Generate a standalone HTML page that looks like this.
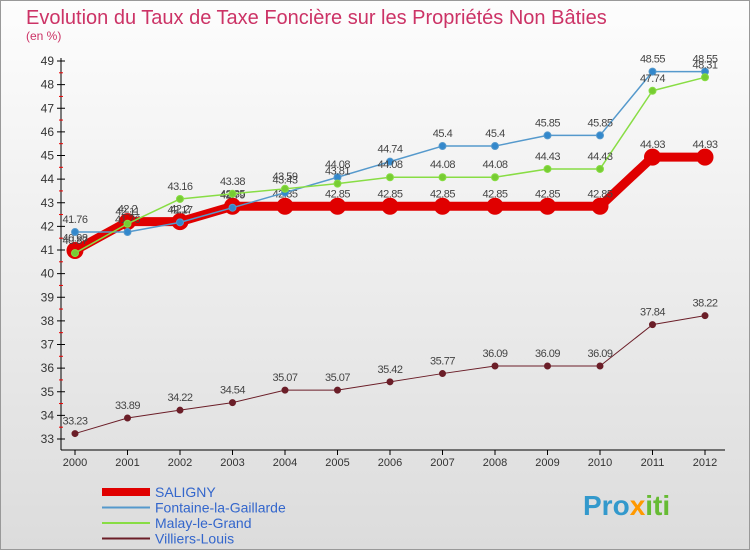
<!DOCTYPE html>
<html><head><meta charset="utf-8"><style>
body{margin:0;width:750px;height:550px;overflow:hidden;font-family:"Liberation Sans",sans-serif}
</style></head><body>
<svg id="c" width="750" height="550" xmlns="http://www.w3.org/2000/svg">
<defs><linearGradient id="bg" x1="0" y1="0" x2="0" y2="1"><stop offset="0" stop-color="#fdfdfd"/><stop offset="1" stop-color="#dcdcdc"/></linearGradient></defs>
<rect x="0.5" y="0.5" width="749" height="549" fill="url(#bg)" stroke="#999"/>
<text x="26" y="24" font-size="20" fill="#cc3366">Evolution du Taux de Taxe Foncière sur les Propriétés Non Bâties</text>
<text x="26" y="40" font-size="12" fill="#cc3366">(en %)</text>
<g id="axes"></g><g id="series"></g><g id="legend"></g>
<text x="583" y="515" font-size="28" font-weight="bold" fill="#3399cc">Pro<tspan fill="#ff9900">x</tspan><tspan fill="#66bb33">iti</tspan></text>
</svg>
<script>
const years=[2000,2001,2002,2003,2004,2005,2006,2007,2008,2009,2010,2011,2012];
const saligny=[40.98,42.2,42.2,42.85,42.85,42.85,42.85,42.85,42.85,42.85,42.85,44.93,44.93];
const fontaine=[41.76,41.76,42.17,42.79,43.43,44.08,44.74,45.4,45.4,45.85,45.85,48.55,48.55];
const malay=[40.87,42.11,43.16,43.38,43.59,43.81,44.08,44.08,44.08,44.43,44.43,47.74,48.31];
const villiers=[33.23,33.89,34.22,34.54,35.07,35.07,35.42,35.77,36.09,36.09,36.09,37.84,38.22];
const yTicks=[33,34,35,36,37,38,39,40,41,42,43,44,45,46,47,48,49];
const NS="http://www.w3.org/2000/svg";
const X=i=>75+i*52.5, Y=v=>61+(49-v)*23.625;
function mk(p,t,a){const e=document.createElementNS(NS,t);for(const k in a)e.setAttribute(k,a[k]);p.appendChild(e);return e;}
const ax=document.getElementById('axes');
let l=mk(ax,'line',{x1:61,y1:58,x2:61,y2:450,stroke:'#000'});


l=mk(ax,'line',{x1:61,y1:450,x2:725,y2:450,stroke:'#000'});


yTicks.forEach(v=>{const y=Y(v);mk(ax,'line',{x1:57,y1:y,x2:65,y2:y,stroke:'#000'});
 mk(ax,'line',{x1:59,y1:y+11.8,x2:63,y2:y+11.8,stroke:v>33?'#e00':'none'});
 const t=mk(ax,'text',{x:54,y:y+4,'font-size':12,'text-anchor':'end',fill:'#333'});t.textContent=v;
 
 });
years.forEach((yr,i)=>{const x=X(i);mk(ax,'line',{x1:x,y1:450,x2:x,y2:455,stroke:'#000'});
 const t=mk(ax,'text',{x:x,y:466,'font-size':11,'text-anchor':'middle',fill:'#333'});t.textContent=yr;
 
 });
const S=document.getElementById('series');
function draw(vals,color,w,r,name,dot){const g=mk(S,'g',{});
 
 
 mk(g,'polyline',{points:vals.map((v,i)=>X(i)+','+Y(v)).join(' '),fill:'none',stroke:color,'stroke-width':w,'stroke-linejoin':'round'});
 vals.forEach((v,i)=>{const c=mk(g,'circle',{cx:X(i),cy:Y(v),r:r,fill:dot,stroke:color,'stroke-width':1});
  
  
  const t=mk(g,'text',{x:X(i),y:Y(v)-9,'font-size':11,'text-anchor':'middle',fill:'#444','letter-spacing':'-0.5'});t.textContent=v;});}
draw(villiers,'#6b1e28',1,3,'villiers-louis-series','#6b1e28');
draw(saligny,'#e00000',9,8,'saligny-series','#e00000');
draw(fontaine,'#5599cc',1.5,3.5,'fontaine-series','#3388cc');
draw(malay,'#88dd44',1.5,3.5,'malay-series','#77cc33');
const L=document.getElementById('legend');
[['SALIGNY','#e00000',8],['Fontaine-la-Gaillarde','#5599cc',2],['Malay-le-Grand','#88dd44',2],['Villiers-Louis','#6b1e28',2]].forEach((d,i)=>{
 const y=492+i*15.5;const g=mk(L,'g',{});
 
 
 mk(g,'line',{x1:102,y1:y,x2:150,y2:y,stroke:d[1],'stroke-width':d[2]});
 const t=mk(g,'text',{x:155,y:y+5,'font-size':14,fill:'#3366cc'});t.textContent=d[0];});
</script>
</body></html>
